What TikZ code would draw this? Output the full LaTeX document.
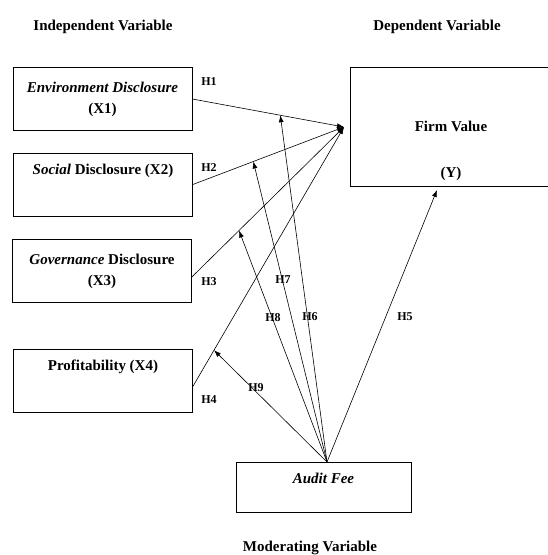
\documentclass[tikz,border=0pt]{standalone}
\usepackage{fontspec}
\setmainfont{Liberation Serif}
\usetikzlibrary{arrows.meta,positioning,calc}

\begin{document}
\begin{tikzpicture}[x=1pt, y=-1pt, every node/.style={font=\fontsize{15}{21}\selectfont\bfseries}, var/.style={draw, rectangle, line width=0.7pt, minimum width=179pt, minimum height=63pt, align=center}, hyp/.style={font=\fontsize{12}{14}\selectfont\bfseries, inner sep=0pt}, title/.style={inner sep=0pt}, link/.style={-{Latex[length=7pt,width=5pt]}, line width=0.6pt}]
\useasboundingbox (0,0) rectangle (548,555);
% titles
\node[title] (ivtitle) at (103,27) {Independent Variable};
\node[title] (dvtitle) at (437,27) {Dependent Variable};
\node[title] (mvtitle) at (310,548) {Moderating Variable};
% variables
\node[var] (x1) at (102.5,99) {\textit{Environment Disclosure}\\(X1)};
\node[var, label={[anchor=north,yshift=-8pt]north:{\textit{Social} Disclosure (X2)}}] (x2) at (103,184.5) {};
\node[var] (x3) at (102,271) {\textit{Governance} Disclosure\\(X3)};
\node[var, label={[anchor=north,yshift=-8pt]north:{Profitability (X4)}}] (x4) at (103,380.5) {};
\node[var, minimum width=202pt, minimum height=119pt, label={[anchor=south,yshift=2pt]south:{(Y)}}] (fv) at (451,126.5) {Firm Value};
\node[var, minimum width=175pt, minimum height=50pt, label={[anchor=north,yshift=-8pt]north:{\textit{Audit Fee}}}] (af) at (323.5,487) {};
\coordinate (fvin) at (344,127);
\coordinate (fvbelow) at (437,190);
\coordinate (afout) at (327,462);
% direct effects
\draw[link] (x1.east) -- coordinate[pos=0.58] (m1) (fvin);
\draw[link] (x2.east) -- coordinate[pos=0.40] (m2) (fvin);
\draw[link] ([yshift=-6pt]x3.east) -- coordinate[pos=0.31] (m3) (fvin);
\draw[link] ([yshift=-6pt]x4.east) -- coordinate[pos=0.14] (m4) (fvin);
\draw[link] (afout) -- (fvbelow);
% moderating effects
\draw[link] (afout) -- (m1);
\draw[link] (afout) -- (m2);
\draw[link] (afout) -- (m3);
\draw[link] (afout) -- (m4);
% hypotheses
\node[hyp] (h1) at (209,82) {H1};
\node[hyp] (h2) at (209,168) {H2};
\node[hyp] (h3) at (209,282) {H3};
\node[hyp] (h4) at (209,400) {H4};
\node[hyp] (h5) at (405,317) {H5};
\node[hyp] (h6) at (310,317) {H6};
\node[hyp] (h7) at (283,280) {H7};
\node[hyp] (h8) at (273,318) {H8};
\node[hyp] (h9) at (256,388) {H9};
\end{tikzpicture}
\end{document}
